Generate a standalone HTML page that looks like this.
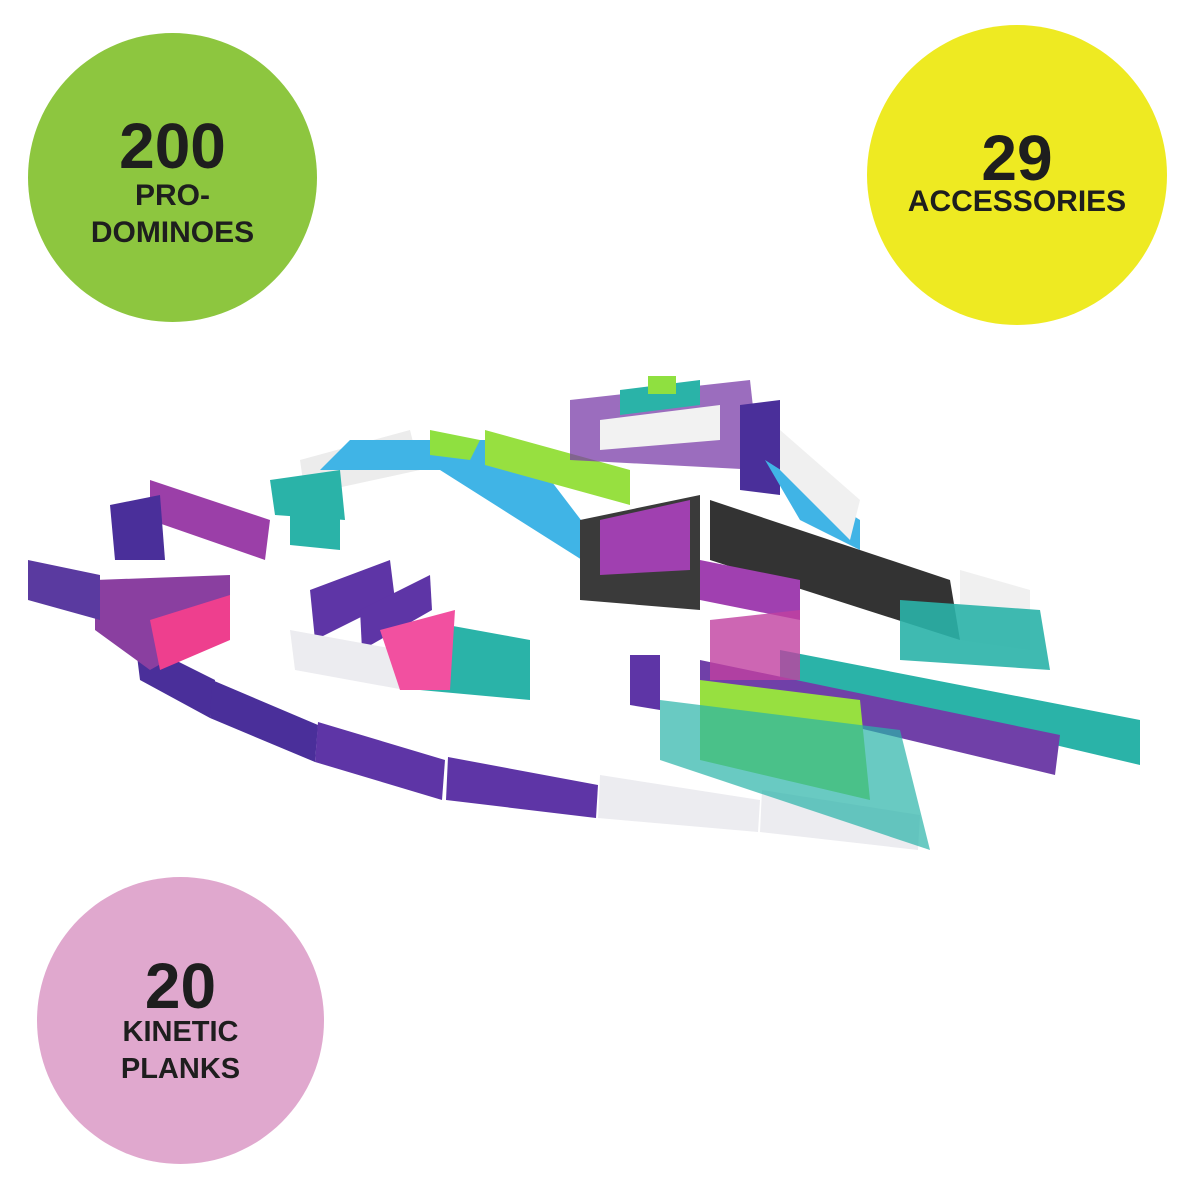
<!DOCTYPE html>
<html><head><meta charset="utf-8"><style>
html,body{margin:0;padding:0;background:#fff;width:1200px;height:1200px;overflow:hidden}
.c{position:absolute;border-radius:50%;text-align:center;font-family:"Liberation Sans",sans-serif;font-weight:bold;color:#1e1e1e}
.c div{position:absolute;left:0;right:0}
</style></head><body>
<svg width="1200" height="1200" style="position:absolute;left:0;top:0">
<g stroke="none">
<polygon points="135,640 215,680 210,718 140,680" fill="#4a2f9a"/>
<polygon points="212,680 318,725 315,762 210,718" fill="#4a2f9a"/>
<polygon points="318,722 445,760 442,800 315,762" fill="#5e35a6"/>
<polygon points="448,757 598,785 596,818 446,800" fill="#5e35a6"/>
<polygon points="600,775 760,800 758,832 598,818" fill="#ececf0"/>
<polygon points="762,790 920,815 918,850 760,832" fill="#ececf0"/>
<polygon points="95,580 230,575 230,625 150,670 95,630" fill="#8a3fa0"/>
<polygon points="150,620 230,595 230,640 160,670" fill="#ee3f8e"/>
<polygon points="28,560 100,575 100,620 28,600" fill="#5a3aa0"/>
<polygon points="150,480 270,520 265,560 150,520" fill="#9b3fa8"/>
<polygon points="110,505 160,495 165,560 115,560" fill="#4a2f9a"/>
<polygon points="310,590 390,560 395,600 315,640" fill="#5e35a6"/>
<polygon points="360,610 430,575 432,610 362,650" fill="#5e35a6"/>
<polygon points="290,630 400,650 405,690 295,670" fill="#ececf0"/>
<polygon points="420,620 530,640 530,700 420,690" fill="#2ab3a8"/>
<polygon points="380,630 455,610 450,690 400,690" fill="#f250a0"/>
<polygon points="300,460 410,430 420,470 305,495" fill="#ececec"/>
<polygon points="270,480 340,470 345,520 275,515" fill="#2ab3a8"/>
<polygon points="290,510 340,510 340,550 290,545" fill="#2ab3a8"/>
<polygon points="350,440 520,440 600,545 590,565 440,470 320,470" fill="#40b4e6"/>
<polygon points="430,430 480,440 470,460 430,455" fill="#8fe040"/>
<polygon points="485,430 630,470 630,505 485,465" fill="#97e040"/>
<polygon points="570,400 750,380 760,470 570,460" fill="#7a3ca8" opacity="0.75"/>
<polygon points="600,420 720,405 720,440 600,450" fill="#f2f2f2"/>
<polygon points="620,390 700,380 700,405 620,415" fill="#2ab3a8"/>
<rect x="648" y="376" width="28" height="18" fill="#8fe040"/>
<polygon points="740,405 780,400 780,495 740,490" fill="#4a2f9a"/>
<polygon points="765,460 860,520 860,550 800,520" fill="#40b4e6"/>
<polygon points="780,430 860,500 850,540 780,470" fill="#f0f0f0"/>
<polygon points="580,520 700,495 700,610 580,600" fill="#3a3a3a"/>
<polygon points="600,520 690,500 690,570 600,575" fill="#a040b0"/>
<polygon points="710,500 950,580 960,640 710,560" fill="#333"/>
<polygon points="700,560 800,580 800,620 700,600" fill="#a040b0"/>
<polygon points="960,570 1030,590 1030,650 960,640" fill="#f0f0f0"/>
<polygon points="900,600 1040,610 1050,670 900,660" fill="#2ab3a8" opacity="0.9"/>
<polygon points="780,650 1140,720 1140,765 780,680" fill="#2ab3a8"/>
<polygon points="700,660 1060,735 1055,775 700,690" fill="#7040a8"/>
<polygon points="700,680 860,700 870,800 700,760" fill="#97e040"/>
<polygon points="660,700 900,730 930,850 660,760" fill="#2ab3a8" opacity="0.7"/>
<polygon points="710,620 800,610 800,680 710,680" fill="#c040a0" opacity="0.8"/>
<polygon points="630,655 660,655 660,710 630,705" fill="#5e35a6"/>
</g>
</svg>
<div class="c" style="left:28px;top:33px;width:289px;height:289px;background:#8dc63f">
<div style="top:76px;font-size:64px">200</div>
<div style="top:144px;font-size:30px;line-height:37px">PRO-<br>DOMINOES</div></div>
<div class="c" style="left:867px;top:25px;width:300px;height:300px;background:#eeea22">
<div style="top:96px;font-size:64px">29</div>
<div style="top:160px;font-size:30px">ACCESSORIES</div></div>
<div class="c" style="left:37px;top:877px;width:287px;height:287px;background:#e0a8ce">
<div style="top:72px;font-size:64px">20</div>
<div style="top:137px;font-size:29px;line-height:37px">KINETIC<br>PLANKS</div></div>
</body></html>
